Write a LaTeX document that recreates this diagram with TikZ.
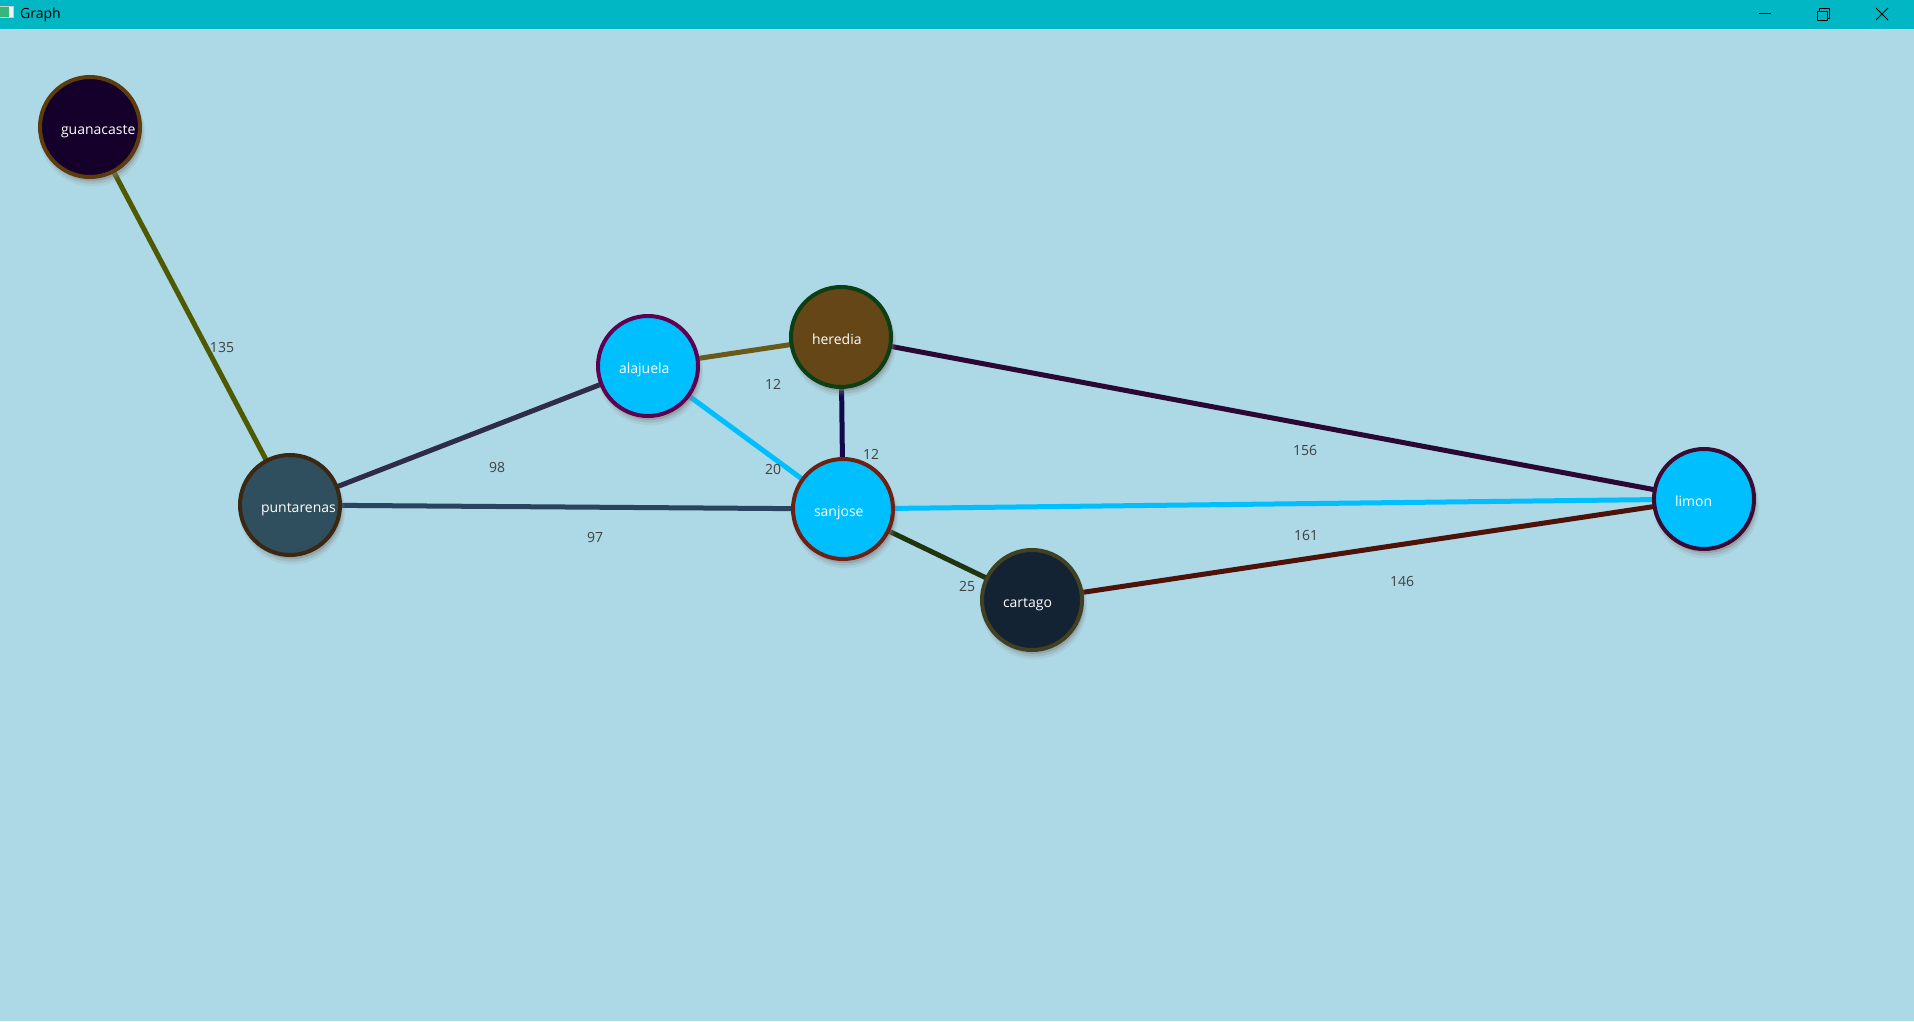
\documentclass[tikz,border=0pt]{standalone}
\usepackage{fontspec}
\setmainfont{Open Sans}
\usetikzlibrary{shadows}
\pgfdeclarelayer{bg}\pgfdeclarelayer{edges}
\pgfsetlayers{bg,edges,main}
\definecolor{sky}{HTML}{ADD8E6}
\definecolor{bar}{HTML}{00B7C3}
\definecolor{deep}{HTML}{00BFFF}
% city fills and rims
\definecolor{guaFill}{HTML}{14002B}\definecolor{guaRim}{HTML}{5C3B0C}
\definecolor{punFill}{HTML}{2F4F5E}\definecolor{punRim}{HTML}{3B2712}
\definecolor{alaRim}{HTML}{5E0052}
\definecolor{herFill}{HTML}{644617}\definecolor{herRim}{HTML}{0C3F14}
\definecolor{sjRim}{HTML}{6B2213}
\definecolor{carFill}{HTML}{132333}\definecolor{carRim}{HTML}{3F4122}
\definecolor{limRim}{HTML}{3A0A32}
% roads
\definecolor{guaPun}{HTML}{4E5A00}\definecolor{punAla}{HTML}{2E2C4A}
\definecolor{punSj}{HTML}{29445E}\definecolor{alaHer}{HTML}{6A5A18}
\definecolor{herSj}{HTML}{12084A}\definecolor{herLim}{HTML}{2A0833}
\definecolor{sjCar}{HTML}{1F3510}\definecolor{carLim}{HTML}{4E1208}
\begin{document}
\begin{tikzpicture}[x=1pt,y=-1pt,line join=round,font=\fontsize{14}{16}\selectfont,
	city/.style 2 args={circle,minimum size=100pt,line width=4pt,fill=#1,draw=#2,text=white,inner sep=0pt,
		font=\fontsize{14}{16}\selectfont,text height=16pt,text depth=2pt,
		execute at begin node={\hbox to 58pt\bgroup},execute at end node={\hss\egroup},
		drop shadow={shadow xshift=2pt,shadow yshift=-6pt,shadow scale=1.06,opacity=.12},
		drop shadow={shadow xshift=2pt,shadow yshift=-5pt,shadow scale=1.03,opacity=.22},
		drop shadow={shadow xshift=2pt,shadow yshift=-4pt,opacity=.4}},
	road/.style={line width=5pt,draw=#1},
	km/.style={text=black!75,inner sep=1pt}]
	\useasboundingbox (0,0) rectangle (1914,1021);
	\begin{pgfonlayer}{bg}
		\fill[sky] (0,0) rectangle (1914,1021);
		\fill[bar] (0,0) rectangle (1914,29);
	\end{pgfonlayer}
	% window bar
	\begin{scope}
		\clip (0,0) rectangle (30,29);
		\draw[gray!40,fill=teal!70!green!80!white] (-3,6) rectangle (13,17);
		\fill[white!90!gray] (9,7) rectangle (12.5,16.5);
	\end{scope}
	\node[anchor=west,inner sep=0pt] (title) at (20,14.5) {Graph};
	\draw[line width=1pt] (1759,13.5)--(1771,13.5);
	\draw[line width=1pt] (1817,11) rectangle (1827,20) (1819,11)--(1819,8.5)--(1829,8.5)--(1829,18)--(1827,18);
	\draw[line width=1pt] (1876,8)--(1888,20) (1888,8)--(1876,20);
	% cities
	\node[city={guaFill}{guaRim}] (guanacaste) at (90,127) {guanacaste};
	\node[city={punFill}{punRim}] (puntarenas) at (290,505) {puntarenas};
	\node[city={deep}{alaRim}] (alajuela) at (648,366) {alajuela};
	\node[city={herFill}{herRim}] (heredia) at (841,337) {heredia};
	\node[city={deep}{sjRim}] (sanjose) at (843,509) {sanjose};
	\node[city={carFill}{carRim}] (cartago) at (1032,600) {cartago};
	\node[city={deep}{limRim}] (limon) at (1704,499) {limon};
	% roads
	\begin{pgfonlayer}{edges}
		\draw[road=guaPun] (guanacaste.center)--(puntarenas.center);
		\draw[road=punAla] (puntarenas.center)--(alajuela.center);
		\draw[road=punSj] (puntarenas.center)--(sanjose.center);
		\draw[road=alaHer] (alajuela.center)--(heredia.center);
		\draw[road=deep] (alajuela.center)--(sanjose.center);
		\draw[road=herSj] (heredia.center)--(sanjose.center);
		\draw[road=herLim] (heredia.center)--(limon.center);
		\draw[road=deep] (sanjose.center)--(limon.center);
		\draw[road=sjCar] (sanjose.center)--(cartago.center);
		\draw[road=carLim] (cartago.center)--(limon.center);
	\end{pgfonlayer}
	% distances
	\node[km] (d135) at (222,347) {135};
	\node[km] (d98) at (497,467) {98};
	\node[km] (d97) at (595,537) {97};
	\node[km] (d12a) at (773,384) {12};
	\node[km] (d20) at (773,469) {20};
	\node[km] (d12b) at (871,454) {12};
	\node[km] (d25) at (967,586) {25};
	\node[km] (d156) at (1305,450) {156};
	\node[km] (d161) at (1306,535) {161};
	\node[km] (d146) at (1402,581) {146};
\end{tikzpicture}
\end{document}
